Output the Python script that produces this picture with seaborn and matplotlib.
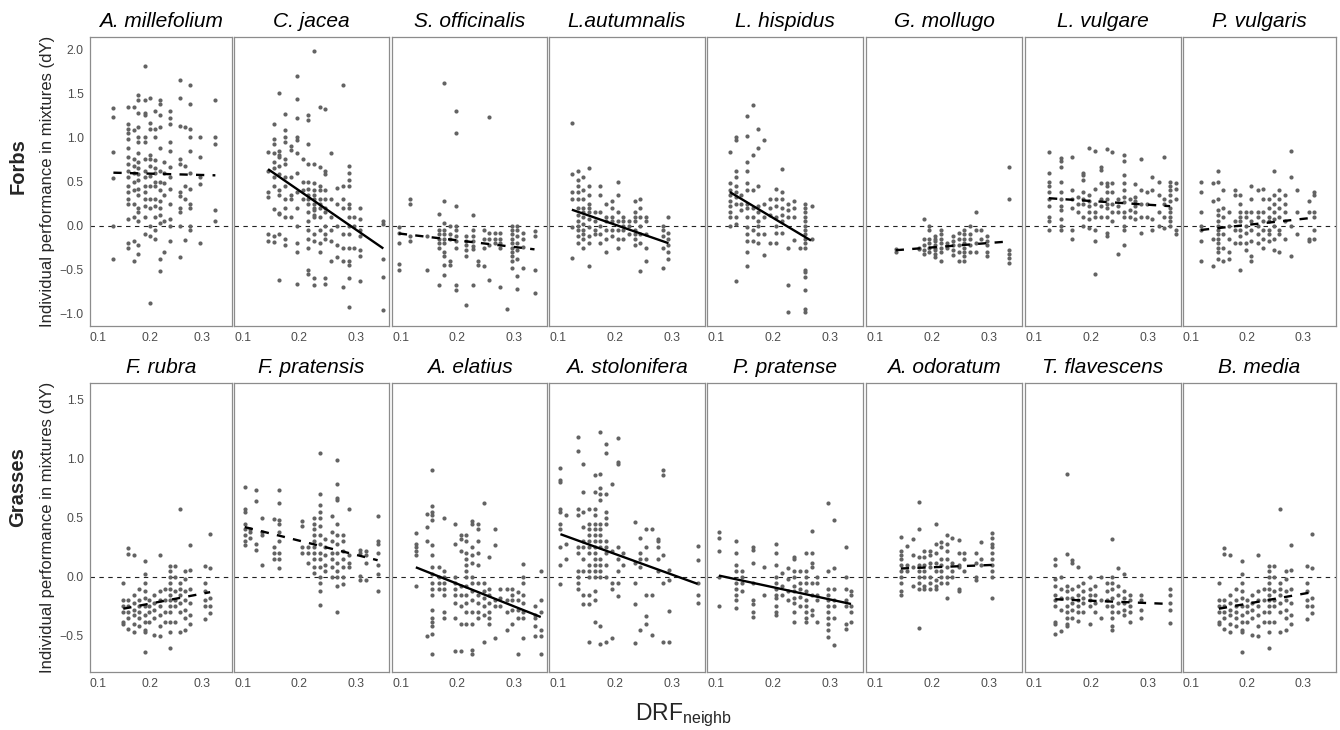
import pandas as pd
import matplotlib.pyplot as plt
import seaborn as sns

sns.set_style("white")
plt.rcParams['font.family'] = ['Liberation Sans', 'DejaVu Sans']
plt.rcParams['mathtext.fontset'] = 'custom'
plt.rcParams['mathtext.rm'] = 'Liberation Sans'

forbs = ['A. millefolium', 'C. jacea', 'S. officinalis', 'L.autumnalis',
         'L. hispidus', 'G. mollugo', 'L. vulgare', 'P. vulgaris']
grasses = ['F. rubra', 'F. pratensis', 'A. elatius', 'A. stolonifera',
           'P. pratense', 'A. odoratum', 'T. flavescens', 'B. media']

# dY values per DRF_neighb value
a_millefolium = {
    0.130: [1.33, 1.23, 0.84, 0.54, 0.0, -0.38],
    0.159: [1.35, 1.15, 1.10, 1.05, 0.98, 0.88, 0.78, 0.70, 0.62, 0.55, 0.45, 0.38, 0.30, 0.25, 0.08, -0.20, -0.25],
    0.169: [1.34, 1.08, 0.75, 0.68, 0.60, 0.50, 0.40, 0.25, 0.10, -0.18, -0.40],
    0.178: [1.48, 1.42, 1.28, 1.12, 1.00, 0.95, 0.82, 0.72, 0.65, 0.58, 0.52, 0.42, 0.35, 0.20, 0.15, 0.05, -0.22, -0.32],
    0.190: [1.81, 1.42, 1.28, 1.25, 1.00, 0.95, 0.75, 0.62, 0.55, 0.45, 0.38, 0.30, 0.22, 0.10, -0.10],
    0.200: [1.45, 1.16, 1.10, 0.80, 0.75, 0.68, 0.56, 0.45, 0.30, 0.20, 0.00, -0.12, -0.88],
    0.210: [1.30, 1.10, 1.00, 0.74, 0.65, 0.60, 0.50, 0.45, 0.30, 0.22, 0.10, -0.05, -0.15],
    0.219: [1.43, 1.38, 1.25, 1.12, 0.88, 0.62, 0.50, 0.40, 0.28, 0.20, 0.12, 0.03, -0.38, -0.52],
    0.227: [0.72, 0.60, 0.48, 0.35, 0.05, -0.30],
    0.238: [1.30, 1.22, 1.15, 0.95, 0.85, 0.66, 0.55, 0.42, 0.25, 0.08, 0.00, -0.18],
    0.258: [1.65, 1.45, 1.13, 0.76, 0.70, 0.38, 0.33, 0.20, 0.15, 0.00, -0.36],
    0.267: [1.12, 0.68, 0.45, 0.30, -0.16],
    0.278: [1.60, 1.38, 1.10, 1.00, 0.85, 0.60, 0.42, 0.25, 0.20, 0.00, -0.05],
    0.297: [1.00, 0.78, 0.55, 0.47, -0.20],
    0.326: [1.42, 1.00, 0.93, 0.18, 0.05],
}
c_jacea = {
    0.145: [0.84, 0.62, 0.38, 0.32, -0.10, -0.18],
    0.155: [1.15, 0.98, 0.92, 0.82, 0.72, 0.65, 0.55, 0.45, 0.19, -0.12, -0.19],
    0.165: [1.50, 0.85, 0.80, 0.78, 0.68, 0.58, 0.40, 0.35, 0.13, 0.14, -0.10, -0.62],
    0.175: [1.27, 1.08, 1.00, 0.95, 0.75, 0.70, 0.55, 0.45, 0.30, 0.20, 0.10, -0.15, -0.22],
    0.185: [0.90, 0.86, 0.55, 0.35, 0.30, 0.10],
    0.196: [1.70, 1.44, 1.22, 1.00, 0.97, 0.82, 0.60, 0.38, 0.20, 0.00, -0.20, -0.30, -0.66],
    0.206: [0.75, 0.50, 0.40, 0.30],
    0.216: [1.25, 1.20, 0.92, 0.70, 0.50, 0.42, 0.35, 0.30, 0.25, 0.15, 0.05, -0.05, -0.15, -0.25, -0.50, -0.55],
    0.226: [1.98, 0.70, 0.48, 0.40, 0.35, 0.30, 0.25, 0.20, 0.18, 0.12, 0.10, -0.10, -0.18, -0.60, -0.67],
    0.236: [1.35, 0.67, 0.45, 0.40, 0.30, 0.25, 0.20, 0.10, -0.05, -0.20, -0.30],
    0.246: [1.32, 0.62, 0.58, 0.40, 0.30, 0.20, 0.15, 0.00, -0.10, -0.15, -0.60, -0.66],
    0.256: [0.82, 0.30, 0.10, -0.05, -0.18, -0.40],
    0.266: [0.43, 0.25, 0.00, -0.22, -0.36],
    0.277: [1.60, 0.45, 0.30, 0.20, -0.10, -0.25, -0.40, -0.70],
    0.287: [0.68, 0.60, 0.52, 0.45, 0.25, 0.20, 0.10, 0.00, -0.10, -0.25, -0.40, -0.45, -0.60, -0.92],
    0.297: [0.10, 0.00, -0.25],
    0.307: [0.20, 0.07, -0.05, -0.12, -0.28, -0.35, -0.63],
    0.348: [0.05, 0.02, -0.38, -0.58, -0.96],
}
s_officinalis = {
    0.097: [-0.02, -0.09, -0.20, -0.44, -0.50],
    0.117: [0.30, 0.25, -0.12, -0.18],
    0.146: [-0.12, -0.50],
    0.167: [0.13, -0.05, -0.10, -0.15, -0.20, -0.25, -0.68],
    0.176: [1.62, 0.28, 0.03, -0.05, -0.10, -0.15, -0.20, -0.30, -0.35, -0.45, -0.56],
    0.187: [0.00, -0.10, -0.15, -0.40, -0.45],
    0.197: [1.30, 1.05, 0.22, 0.00, -0.05, -0.12, -0.18, -0.25, -0.68, -0.73],
    0.216: [-0.12, -0.18, -0.22, -0.28, -0.35, -0.90],
    0.227: [0.12, -0.05, -0.12, -0.18, -0.23, -0.27, -0.67],
    0.237: [-0.40, -0.45],
    0.247: [-0.05, -0.15, -0.25, -0.46],
    0.256: [1.23, -0.08, -0.15, -0.22, -0.62],
    0.266: [-0.08, -0.15, -0.20],
    0.276: [-0.08, -0.15, -0.20, -0.25, -0.70],
    0.287: [-0.95],
    0.296: [0.00, -0.05, -0.10, -0.15, -0.20, -0.25, -0.30, -0.35, -0.40, -0.48],
    0.306: [0.00, -0.05, -0.12, -0.20, -0.28, -0.38, -0.57, -0.72],
    0.316: [-0.08, -0.15, -0.24, -0.48],
    0.336: [-0.06, -0.12, -0.50, -0.77],
}
l_autumnalis = {
    0.125: [1.16, 0.58, 0.38, 0.30, -0.02, -0.37],
    0.135: [0.62, 0.52, 0.45, 0.38, 0.30, 0.20, 0.12, 0.05, 0.00, -0.05, -0.12, -0.20],
    0.145: [0.55, 0.40, 0.30, 0.20, 0.15, 0.10, 0.02, -0.05, -0.10, -0.15, -0.25],
    0.155: [0.65, 0.45, 0.35, 0.25, 0.20, 0.15, 0.08, -0.02, -0.12, -0.20, -0.46],
    0.165: [0.15, 0.05, -0.05, -0.10],
    0.175: [0.45, 0.35, 0.15, 0.00, -0.10, -0.20],
    0.185: [0.25, 0.10, 0.05, -0.05, -0.15, -0.30],
    0.195: [0.28, 0.20, 0.10, 0.05, -0.05, -0.12],
    0.205: [0.50, 0.35, 0.15, 0.05, -0.05, -0.15, -0.25],
    0.215: [0.10, 0.05, 0.00, -0.05, -0.15],
    0.225: [0.05, 0.00, -0.10],
    0.235: [0.28, 0.15, 0.10, 0.05, -0.05, -0.10, -0.15, -0.22],
    0.245: [0.30, 0.20, 0.10, 0.00, -0.10, -0.20, -0.52],
    0.254: [0.10, 0.05, -0.10, -0.25, -0.40],
    0.285: [0.00, -0.05, -0.12, -0.25, -0.48],
    0.294: [0.10, -0.08, -0.15, -0.22, -0.30, -0.38],
}
l_hispidus = {
    0.125: [0.84, 0.48, 0.40, 0.35, 0.28, 0.22, 0.15, 0.10, 0.00],
    0.135: [1.00, 0.97, 0.62, 0.55, 0.45, 0.38, 0.32, 0.25, 0.10, 0.02, -0.63],
    0.145: [0.35, 0.25, 0.18],
    0.155: [1.24, 1.02, 0.72, 0.62, 0.48, 0.40, 0.25, 0.20, 0.10, -0.02, -0.10, -0.18, -0.30, -0.46],
    0.165: [1.37, 0.80, 0.40, 0.20, 0.10, -0.05, -0.18],
    0.175: [1.10, 0.88, 0.45, 0.22, 0.15, 0.05, 0.00, -0.10, -0.20],
    0.185: [0.97, 0.25, 0.10, -0.10, -0.33],
    0.195: [0.30, 0.20, 0.12, -0.20],
    0.205: [0.42, 0.30, 0.22, 0.10, 0.00, -0.08, -0.20],
    0.216: [0.64, 0.38, 0.30, 0.20, 0.12, 0.05, -0.08],
    0.227: [0.25, 0.18, 0.10, -0.25, -0.67, -0.98],
    0.238: [0.28, 0.20, 0.10, -0.16],
    0.247: [-0.25],
    0.257: [0.25, 0.20, 0.15, 0.10, 0.05, 0.00, -0.05, -0.10, -0.15, -0.20, -0.25, -0.50, -0.53, -0.58, -0.73, -0.95, -0.98],
    0.268: [0.22, -0.15],
}
g_mollugo = {
    0.137: [-0.27, -0.30],
    0.177: [-0.25, -0.27],
    0.187: [0.07, -0.15, -0.22, -0.28, -0.32],
    0.196: [0.00, -0.05, -0.15, -0.20, -0.25, -0.30],
    0.206: [-0.12, -0.15, -0.18, -0.22, -0.25, -0.28, -0.32, -0.36],
    0.216: [-0.05, -0.10, -0.15, -0.20, -0.25, -0.30, -0.40],
    0.227: [-0.20, -0.25],
    0.237: [-0.12, -0.17, -0.22, -0.28, -0.33],
    0.247: [-0.08, -0.15, -0.22, -0.30, -0.40],
    0.256: [-0.05, -0.10, -0.15, -0.20, -0.25, -0.30, -0.35, -0.40],
    0.267: [0.00, -0.10, -0.15, -0.22, -0.30],
    0.277: [0.15, -0.05, -0.20, -0.30],
    0.287: [-0.05, -0.15],
    0.297: [-0.12, -0.18, -0.22, -0.30, -0.35],
    0.336: [0.66, 0.30, -0.28, -0.32, -0.37, -0.42],
}
l_vulgare = {
    0.127: [0.84, 0.60, 0.50, 0.45, 0.38, 0.30, 0.22, 0.10, 0.05, -0.05],
    0.148: [0.77, 0.73, 0.67, 0.50, 0.38, 0.30, 0.22, 0.18, 0.08, 0.00, -0.05],
    0.167: [0.78, 0.40, 0.30, 0.20, -0.05, -0.15],
    0.177: [0.32, 0.25, 0.15],
    0.187: [0.60, 0.57, 0.52, 0.38, 0.30, 0.25, 0.10, 0.00],
    0.197: [0.88, 0.35, 0.28, 0.22, 0.15, 0.08, -0.03],
    0.208: [0.85, 0.42, 0.25, 0.15, 0.10, -0.05, -0.18, -0.55],
    0.218: [0.67, 0.63, 0.48, 0.30, 0.22, 0.10],
    0.228: [0.87, 0.48, 0.45, 0.38, 0.30, 0.25, 0.20, 0.10, -0.08, -0.12],
    0.238: [0.83, 0.48, 0.38, 0.25, 0.15, 0.05],
    0.248: [0.30, 0.22, 0.15, -0.32],
    0.258: [0.80, 0.73, 0.57, 0.48, 0.40, 0.32, 0.27, 0.15, 0.10, 0.00, -0.05, -0.22],
    0.268: [0.30, 0.18, 0.10],
    0.278: [0.47, 0.32, 0.28, 0.22, 0.15, 0.08],
    0.288: [0.76, 0.40, 0.25, 0.10, -0.08],
    0.298: [0.38, 0.25, 0.10],
    0.308: [0.55, 0.40, 0.08, -0.05],
    0.319: [0.50, 0.35, 0.15, 0.00],
    0.329: [0.78, 0.30, 0.25, 0.10, -0.03],
    0.339: [0.50, 0.45, 0.40, 0.35, 0.28, 0.20, 0.15, 0.10, 0.05, 0.00],
    0.349: [0.48, 0.42, 0.30, -0.05, -0.10],
}
p_vulgaris = {
    0.117: [0.50, 0.38, 0.15, 0.00, -0.05, -0.18, -0.40],
    0.138: [0.48, 0.28, -0.15, -0.46],
    0.147: [0.62, 0.50, 0.30, 0.18, 0.12, 0.05, 0.00, -0.05, -0.10, -0.15, -0.20, -0.25, -0.30, -0.38],
    0.157: [0.40, 0.20, 0.10, -0.10, -0.25, -0.40],
    0.167: [0.15, 0.00, -0.15, -0.30, -0.38],
    0.178: [0.40, 0.35, 0.05, -0.05, -0.20],
    0.187: [0.35, 0.25, 0.15, 0.10, 0.05, -0.05, -0.12, -0.20, -0.50],
    0.198: [0.15, 0.10, 0.00, -0.08, -0.20, -0.28],
    0.207: [0.45, 0.30, 0.15, 0.05, -0.05, -0.18, -0.35, -0.40],
    0.218: [0.40, 0.15, 0.10, 0.00, -0.10, -0.20],
    0.228: [0.42, 0.30, 0.15, 0.05, -0.05, -0.15, -0.25],
    0.238: [0.30, 0.20, 0.10, 0.05, -0.05, -0.10, -0.18],
    0.248: [0.62, 0.35, 0.25, 0.15, 0.08, 0.00, -0.15, -0.28],
    0.257: [0.40, 0.30, 0.20, 0.10, -0.05, -0.10, -0.30],
    0.267: [0.35, 0.25, 0.15, 0.05, -0.15],
    0.278: [0.85, 0.55, 0.00, -0.35],
    0.288: [0.40, 0.15, -0.10],
    0.309: [0.28, 0.15, -0.15, -0.18],
    0.319: [0.38, 0.35, 0.15, 0.10, -0.05, -0.15],
}
f_rubra = {
    0.149: [-0.05, -0.20, -0.25, -0.30, -0.38, -0.40],
    0.159: [0.24, 0.19, -0.20, -0.25, -0.30, -0.35, -0.44],
    0.169: [0.18, -0.15, -0.22, -0.28, -0.32, -0.40, -0.47],
    0.179: [-0.10, -0.20, -0.25, -0.30, -0.35, -0.42],
    0.190: [0.13, 0.02, -0.05, -0.12, -0.18, -0.25, -0.32, -0.38, -0.45, -0.47, -0.64],
    0.199: [-0.20, -0.25, -0.30, -0.38],
    0.209: [-0.15, -0.22, -0.28, -0.35, -0.49],
    0.219: [0.18, -0.12, -0.20, -0.25, -0.32, -0.42, -0.50],
    0.229: [-0.10, -0.20, -0.30, -0.38],
    0.238: [0.09, 0.05, 0.00, -0.05, -0.10, -0.15, -0.20, -0.25, -0.30, -0.38, -0.47, -0.60],
    0.248: [0.09, 0.00, -0.12, -0.20, -0.25, -0.38],
    0.258: [0.57, -0.05, -0.10, -0.15, -0.22, -0.30, -0.47],
    0.268: [0.05, -0.02, -0.12, -0.20, -0.28, -0.35, -0.45],
    0.278: [0.27, 0.06, -0.10, -0.22, -0.32, -0.40],
    0.306: [0.09, -0.05, -0.12, -0.20, -0.25, -0.36],
    0.316: [0.36, 0.07, -0.18, -0.25, -0.31],
}
f_pratensis = {
    0.104: [0.76, 0.57, 0.55, 0.45, 0.40, 0.35, 0.30, 0.27],
    0.114: [0.40, 0.38, 0.33],
    0.124: [0.73, 0.64, 0.28, 0.23],
    0.134: [0.50, 0.38, 0.35, 0.10],
    0.155: [0.49, 0.25, 0.20, 0.15],
    0.164: [0.73, 0.62, 0.48, 0.45, 0.38, 0.30, 0.20, 0.15, 0.07],
    0.205: [0.47, 0.43, 0.25, 0.20],
    0.215: [0.25, 0.20, 0.12],
    0.226: [0.50, 0.45, 0.40, 0.35, 0.30, 0.25, 0.20, 0.15, 0.08, 0.03],
    0.236: [1.05, 0.70, 0.61, 0.55, 0.50, 0.43, 0.35, 0.28, 0.20, 0.15, 0.08, 0.00, -0.05, -0.12, -0.24],
    0.246: [0.32, 0.25, 0.18, 0.10, 0.05],
    0.257: [0.51, 0.38, 0.30, 0.20, 0.15, 0.08, 0.00],
    0.267: [0.99, 0.78, 0.67, 0.65, 0.45, 0.35, 0.28, 0.20, 0.12, 0.05, 0.00, -0.08, -0.30],
    0.277: [0.35, 0.30, 0.22, 0.15, 0.08, 0.00, -0.06],
    0.287: [0.57, 0.18, 0.12, 0.08],
    0.307: [0.23, 0.20, 0.01, -0.03],
    0.317: [0.22, 0.18, 0.12, -0.03],
    0.338: [0.51, 0.30, 0.28, 0.20, 0.10, 0.02, -0.12],
}
a_elatius = {
    0.127: [0.37, 0.28, 0.25, 0.22, 0.18, -0.08],
    0.147: [0.53, 0.42, 0.30, -0.50],
    0.156: [0.90, 0.60, 0.55, 0.52, 0.48, 0.27, 0.18, 0.08, 0.02, -0.05, -0.10, -0.15, -0.28, -0.35, -0.38, -0.42, -0.48, -0.65],
    0.167: [0.08, 0.00, -0.05, -0.10],
    0.176: [0.50, 0.05, 0.00, -0.05, -0.10, -0.15, -0.30, -0.35],
    0.196: [0.45, 0.28, 0.00, -0.05, -0.10, -0.15, -0.22, -0.35, -0.63],
    0.206: [0.35, 0.32, 0.22, -0.08, -0.15, -0.25, -0.40, -0.63],
    0.216: [0.35, 0.30, 0.20, 0.15, 0.10, 0.05, 0.00, -0.08, -0.15, -0.22, -0.30, -0.40],
    0.226: [0.47, 0.45, 0.25, 0.18, 0.12, 0.00, -0.05, -0.12, -0.20, -0.30, -0.40, -0.62, -0.65],
    0.236: [0.45, 0.40, 0.30, 0.20, 0.10, -0.05, -0.15, -0.22, -0.30, -0.35],
    0.247: [0.62, -0.05, -0.12, -0.18, -0.25, -0.32, -0.55],
    0.256: [0.17, -0.10, -0.15, -0.22, -0.30, -0.35, -0.40],
    0.267: [0.40, 0.27, -0.20, -0.25, -0.52],
    0.276: [-0.10, -0.18, -0.25],
    0.287: [-0.10, -0.20, -0.30, -0.45],
    0.296: [-0.10, -0.15, -0.20, -0.28, -0.40],
    0.307: [-0.13, -0.20, -0.28, -0.35, -0.65],
    0.316: [0.11, 0.00, -0.05, -0.15, -0.22, -0.30, -0.35, -0.52],
    0.337: [-0.25, -0.32, -0.35, -0.42, -0.50],
    0.347: [0.05, -0.20, -0.30, -0.45, -0.50, -0.65],
}
a_stolonifera = {
    0.105: [0.92, 0.82, 0.80, 0.57, 0.55, 0.45, 0.40, 0.25, 0.10, -0.06],
    0.115: [0.52, 0.28, 0.15],
    0.135: [1.18, 1.06, 0.57, 0.52, 0.25, 0.20, 0.05, 0.00, -0.05, -0.10],
    0.145: [0.95, 0.72, 0.55, 0.42, 0.30, 0.25, 0.15, 0.05, -0.15, -0.23],
    0.155: [0.57, 0.45, 0.40, 0.35, 0.30, 0.25, 0.20, 0.10, 0.05, 0.00, -0.15, -0.23, -0.55],
    0.165: [0.86, 0.72, 0.57, 0.52, 0.45, 0.40, 0.35, 0.30, 0.25, 0.20, 0.15, 0.10, 0.05, 0.00, -0.12, -0.20, -0.38],
    0.175: [1.22, 0.87, 0.75, 0.70, 0.65, 0.45, 0.40, 0.35, 0.30, 0.25, 0.15, 0.10, 0.05, 0.00, -0.42, -0.57],
    0.185: [1.12, 1.05, 0.70, 0.55, 0.50, 0.45, 0.30, 0.25, 0.20, 0.10, 0.00, -0.55],
    0.195: [0.78, 0.22, -0.05, -0.10, -0.52],
    0.205: [1.17, 0.97, 0.95, 0.25, 0.15, 0.05, -0.05, -0.16],
    0.215: [0.20, 0.10],
    0.235: [0.46, 0.12, -0.05, -0.23, -0.56],
    0.245: [0.33, 0.20, 0.15, 0.08, -0.45],
    0.254: [0.40, 0.25, 0.15, -0.15, -0.33, -0.40],
    0.265: [0.40, -0.15, -0.49],
    0.275: [0.32, 0.30, 0.25, 0.15, 0.05],
    0.285: [0.90, 0.86, 0.18, -0.05, -0.55],
    0.295: [0.06, -0.03, -0.29, -0.55],
    0.345: [0.26, 0.14, -0.05, -0.15, -0.22],
}
p_pratense = {
    0.106: [0.38, 0.33, 0.22, 0.00, -0.25],
    0.135: [0.30, 0.20, 0.10, 0.05, -0.05, -0.10, -0.15, -0.20, -0.26],
    0.146: [0.05, 0.00, -0.05, -0.12],
    0.165: [0.25, 0.23, 0.12, -0.05, -0.20, -0.23, -0.30, -0.34],
    0.185: [0.08, -0.15],
    0.206: [0.28, 0.20, 0.10, 0.00, -0.05, -0.10, -0.15, -0.18, -0.25, -0.30, -0.32],
    0.217: [0.03, -0.08, -0.15],
    0.227: [0.07, -0.02, -0.12, -0.20],
    0.238: [0.17, 0.15, 0.05, 0.00, -0.08, -0.12, -0.18, -0.22, -0.30, -0.38],
    0.247: [0.05, -0.05, -0.10, -0.17, -0.25],
    0.258: [0.20, 0.05, 0.00, -0.05, -0.12, -0.20, -0.25, -0.30, -0.35, -0.38],
    0.268: [0.39, 0.20, 0.12, 0.08, -0.05, -0.15, -0.28, -0.32],
    0.278: [0.00, -0.05, -0.15, -0.20, -0.38],
    0.297: [0.62, 0.05, -0.10, -0.15, -0.20, -0.25, -0.30, -0.35, -0.40, -0.45, -0.51],
    0.308: [0.48, 0.07, -0.10, -0.20, -0.25, -0.35, -0.58],
    0.328: [0.25, 0.00, -0.10, -0.20, -0.25, -0.40, -0.44],
    0.337: [-0.12, -0.15, -0.25, -0.30, -0.38],
}
a_odoratum = {
    0.146: [0.34, 0.22, 0.18, 0.15, 0.10, 0.05, 0.00, -0.05, -0.12, -0.15],
    0.157: [0.26, 0.10, 0.05],
    0.167: [0.32, 0.18, 0.08, -0.08],
    0.177: [0.63, 0.40, 0.17, 0.10, 0.05, 0.00, -0.05, -0.10, -0.43],
    0.187: [0.22, 0.17, 0.10, 0.05, 0.00, -0.08, -0.10],
    0.197: [0.22, 0.18, 0.12, 0.08, 0.00, -0.05, -0.10],
    0.207: [0.45, 0.28, 0.20, 0.12, 0.05, -0.03, -0.08, -0.10],
    0.217: [0.29, 0.25, 0.15, 0.10, 0.05, 0.00, -0.05],
    0.227: [0.35, 0.28, 0.22, 0.15, 0.08, 0.00, -0.05, -0.18],
    0.236: [0.33, 0.12, 0.05, 0.00],
    0.247: [0.31, 0.20, 0.10, 0.08, -0.10, -0.12],
    0.256: [0.20, 0.15, 0.05],
    0.277: [0.20, 0.12, 0.00, -0.03],
    0.287: [0.29, 0.15, 0.10],
    0.306: [0.37, 0.33, 0.28, 0.25, 0.20, 0.15, 0.10, 0.05, 0.00, -0.18],
}
t_flavescens = {
    0.138: [0.15, 0.10, -0.02, -0.08, -0.15, -0.20, -0.25, -0.38, -0.40, -0.48],
    0.148: [0.00, -0.10, -0.18, -0.28, -0.46],
    0.158: [0.87, 0.19, -0.08, -0.12, -0.18, -0.25, -0.30, -0.35, -0.40, -0.42],
    0.167: [0.14, 0.12, -0.10, -0.18, -0.22, -0.28, -0.35],
    0.178: [0.08, -0.08, -0.15, -0.20, -0.25, -0.30, -0.37],
    0.187: [-0.05, -0.12, -0.18, -0.22, -0.30],
    0.198: [0.00, -0.10, -0.15, -0.20, -0.25, -0.40],
    0.208: [-0.08, -0.15, -0.22, -0.30],
    0.218: [0.00, -0.20, -0.35],
    0.228: [-0.05, -0.12, -0.20, -0.25],
    0.238: [0.32, 0.00, -0.05, -0.10, -0.18, -0.25, -0.30, -0.35, -0.42, -0.45],
    0.248: [0.07, -0.08, -0.15, -0.22, -0.30],
    0.258: [0.02, -0.12, -0.18, -0.22, -0.28, -0.32],
    0.268: [-0.15, -0.20, -0.25, -0.30, -0.38],
    0.288: [-0.15, -0.20, -0.28, -0.35],
    0.339: [-0.10, -0.15, -0.22, -0.28, -0.39],
}
b_media = dict(f_rubra)  # the two panels show the same points

forb_points = [a_millefolium, c_jacea, s_officinalis, l_autumnalis,
               l_hispidus, g_mollugo, l_vulgare, p_vulgaris]
grass_points = [f_rubra, f_pratensis, a_elatius, a_stolonifera,
                p_pratense, a_odoratum, t_flavescens, b_media]

# fitted lines (start/end of DRF_neighb and dY) and significance, forbs then grasses
fit_x0 = [0.130, 0.145, 0.097, 0.125, 0.125, 0.137, 0.127, 0.117,
          0.149, 0.104, 0.127, 0.105, 0.106, 0.146, 0.138, 0.149]
fit_x1 = [0.326, 0.348, 0.336, 0.294, 0.267, 0.336, 0.339, 0.319,
          0.316, 0.338, 0.347, 0.345, 0.337, 0.306, 0.339, 0.316]
fit_y0 = [0.60, 0.64, -0.09, 0.18, 0.38, -0.28, 0.31, -0.05,
          -0.27, 0.42, 0.08, 0.36, 0.01, 0.07, -0.19, -0.27]
fit_y1 = [0.57, -0.26, -0.27, -0.20, -0.17, -0.18, 0.22, 0.09,
          -0.13, 0.14, -0.34, -0.06, -0.23, 0.10, -0.23, -0.13]
fit_sig = [False, True, False, True, True, False, False, False,
           False, False, True, True, True, False, False, False]

rows = []
for grp, names, sets in [('Forbs', forbs, forb_points), ('Grasses', grasses, grass_points)]:
    for name, pts in zip(names, sets):
        for x, ys in pts.items():
            for y in ys:
                rows.append((grp, name, x, y))
df = pd.DataFrame(rows, columns=['group', 'species', 'drf', 'dy'])

W, H = 1340, 730
fig = plt.figure(figsize=(W / 100, H / 100), dpi=100)

lefts = [90, 234, 392, 549, 707, 866, 1025, 1183]
rights = [232, 389, 547, 705, 863, 1022, 1181, 1336]
tops = [37, 383]
bottoms = [326, 672]
ylims = [(-1.14, 2.14), (-0.805, 1.638)]
yticks = [[-1.0, -0.5, 0.0, 0.5, 1.0, 1.5, 2.0], [-0.5, 0.0, 0.5, 1.0, 1.5]]

k = 0
for r, (grp, names) in enumerate([('Forbs', forbs), ('Grasses', grasses)]):
    for c, name in enumerate(names):
        ax = fig.add_axes([lefts[c] / W, 1 - bottoms[r] / H,
                           (rights[c] - lefts[c]) / W, (bottoms[r] - tops[r]) / H])
        sub = df[df['species'] == name]
        if grp == 'Grasses' and name == 'B. media':
            sub = df[(df['species'] == 'B. media')]
        ax.axhline(0, color='#222222', lw=0.8, ls=(0, (4, 4)), zorder=1)
        sns.scatterplot(data=sub, x='drf', y='dy', ax=ax, color='#636363',
                        s=9, linewidth=0, legend=False, zorder=2)
        ax.plot([fit_x0[k], fit_x1[k]], [fit_y0[k], fit_y1[k]], color='black',
                lw=1.7, ls='-' if fit_sig[k] else (0, (3.5, 3.5)), zorder=3,
                solid_capstyle='butt')
        k += 1
        ax.set_xlim(0.085, 0.358)
        ax.set_ylim(*ylims[r])
        ax.set_xticks([0.1, 0.2, 0.3])
        ax.set_xticklabels(['0.1', '0.2', '0.3'])
        ax.set_yticks(yticks[r])
        ax.set_yticklabels([f'{v:.1f}'.replace('-', '\u2212') for v in yticks[r]])
        ax.tick_params(axis='both', direction='out', length=2.5, width=0.6,
                       color='#333333', labelcolor='#4d4d4d', labelsize=8.8, pad=2)
        if c > 0:
            ax.tick_params(axis='y', labelleft=False)
        for sp in ax.spines.values():
            sp.set_color('#8c8c8c')
            sp.set_linewidth(0.9)
        ax.set_xlabel('')
        ax.set_ylabel('')
        ax.set_title(name, style='italic', fontsize=15, pad=7, color='black')

    fig.text(48 / W, 1 - (tops[r] + bottoms[r]) / 2 / H,
             'Individual performance in mixtures (dY)', rotation=90,
             ha='center', va='center', fontsize=12)

fig.text(18 / W, 1 - 166 / H, 'Forbs', rotation=90, ha='center', va='center',
         fontsize=14.5, fontweight='bold')
fig.text(18 / W, 1 - 487 / H, 'Grasses', rotation=90, ha='center', va='center',
         fontsize=14.5, fontweight='bold')
fig.text(683 / W, 1 - 715 / H, r'DRF$_{\mathregular{neighb}}$', ha='center',
         va='center', fontsize=16.5)

plt.savefig('out.png', dpi=100)
